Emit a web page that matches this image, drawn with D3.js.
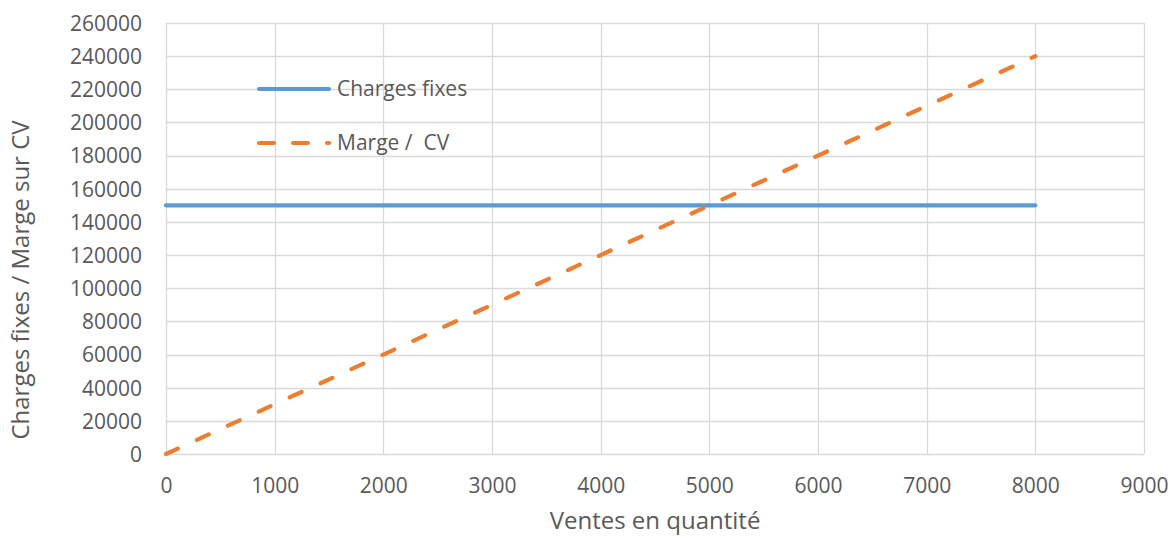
<!DOCTYPE html>
<html>
<head>
<meta charset="utf-8">
<script src="https://cdn.jsdelivr.net/npm/d3@7"></script>
<style>
  html, body { margin: 0; padding: 0; background: #fff; }
  svg { display: block; }
  text { font-family: "Open Sans", "Noto Sans", sans-serif; fill: #595959; }
</style>
</head>
<body>
<svg id="chart" width="1174" height="537"></svg>
<script>
// ---- data ----
const quantities = [0, 1000, 2000, 3000, 4000, 5000, 6000, 7000, 8000];
const chargesFixes = [150000, 150000, 150000, 150000, 150000, 150000, 150000, 150000, 150000];
const margeCV = [0, 30000, 60000, 90000, 120000, 150000, 180000, 210000, 240000];
const seriesNames = ["Charges fixes", "Marge /  CV"];
const xTicks = [0, 1000, 2000, 3000, 4000, 5000, 6000, 7000, 8000, 9000];
const yTicks = [0, 20000, 40000, 60000, 80000, 100000, 120000, 140000, 160000, 180000, 200000, 220000, 240000, 260000];
const xTitle = "Ventes en quantité";
const yTitle = "Charges fixes / Marge sur CV";

(function () {
const svg = d3.select("#chart");
const pl = 166, pr = 1144, pt = 23, pb = 454;
const x = d3.scaleLinear().domain([0, 9000]).range([pl, pr]);
const y = d3.scaleLinear().domain([0, 260000]).range([pb, pt]);
const grid = "#d9d9d9";
const blue = "#5b9bd5", orange = "#ed7d31";

// gridlines
svg.append("g").selectAll("line").data(yTicks).join("line")
  .attr("x1", pl).attr("x2", pr)
  .attr("y1", d => Math.round(y(d)) + 0.5).attr("y2", d => Math.round(y(d)) + 0.5)
  .attr("stroke", grid).attr("stroke-width", 1.3);
svg.append("g").selectAll("line").data(xTicks).join("line")
  .attr("y1", pt).attr("y2", pb)
  .attr("x1", d => Math.round(x(d)) + 0.5).attr("x2", d => Math.round(x(d)) + 0.5)
  .attr("stroke", grid).attr("stroke-width", 1.3);

// axes
const xAxis = d3.axisBottom(x).tickValues(xTicks).tickSize(0).tickPadding(0).tickFormat(d3.format("d"));
const gx = svg.append("g").attr("transform", `translate(0,${pb})`).call(xAxis);
gx.select(".domain").remove();
gx.selectAll("text").attr("font-size", 21).attr("dy", null).attr("y", 39)
  .style("font-family", '"Open Sans", sans-serif').attr("fill", "#595959");

const yAxis = d3.axisLeft(y).tickValues(yTicks).tickSize(0).tickPadding(0).tickFormat(d3.format("d"));
const gy = svg.append("g").attr("transform", `translate(${pl - 24},0)`).call(yAxis);
gy.select(".domain").remove();
gy.selectAll("text").attr("font-size", 21).attr("dy", "0.35em")
  .style("font-family", '"Open Sans", sans-serif').attr("fill", "#595959");

// titles
svg.append("text").attr("x", 655).attr("y", 529).attr("text-anchor", "middle")
  .attr("font-size", 24).text(xTitle);
svg.append("text").attr("transform", "translate(29,280) rotate(-90)").attr("text-anchor", "middle")
  .attr("font-size", 24).text(yTitle);

// lines
const line = (vals) => d3.line().x((d, i) => x(quantities[i])).y(d => y(d))(vals);
svg.append("path").attr("d", line(chargesFixes)).attr("fill", "none")
  .attr("stroke", blue).attr("stroke-width", 4.2).attr("stroke-linecap", "round");
svg.append("path").attr("d", line(margeCV)).attr("fill", "none")
  .attr("stroke", orange).attr("stroke-width", 4.2).attr("stroke-linecap", "round")
  .attr("stroke-dasharray", "13,21");

// legend
const lg = svg.append("g");
const legendY = [89, 143];
lg.append("line").attr("x1", 259).attr("x2", 329).attr("y1", legendY[0]).attr("y2", legendY[0])
  .attr("stroke", blue).attr("stroke-width", 4.2).attr("stroke-linecap", "round");
lg.append("line").attr("x1", 259).attr("x2", 329).attr("y1", legendY[1]).attr("y2", legendY[1])
  .attr("stroke", orange).attr("stroke-width", 4.2).attr("stroke-linecap", "round")
  .attr("stroke-dasharray", "15,19");
lg.selectAll("text").data(seriesNames).join("text")
  .attr("x", 337).attr("y", (d, i) => legendY[i]).attr("dy", "0.35em")
  .attr("font-size", 21).attr("xml:space", "preserve").style("white-space", "pre").text(d => d);
})();
</script>
</body>
</html>
